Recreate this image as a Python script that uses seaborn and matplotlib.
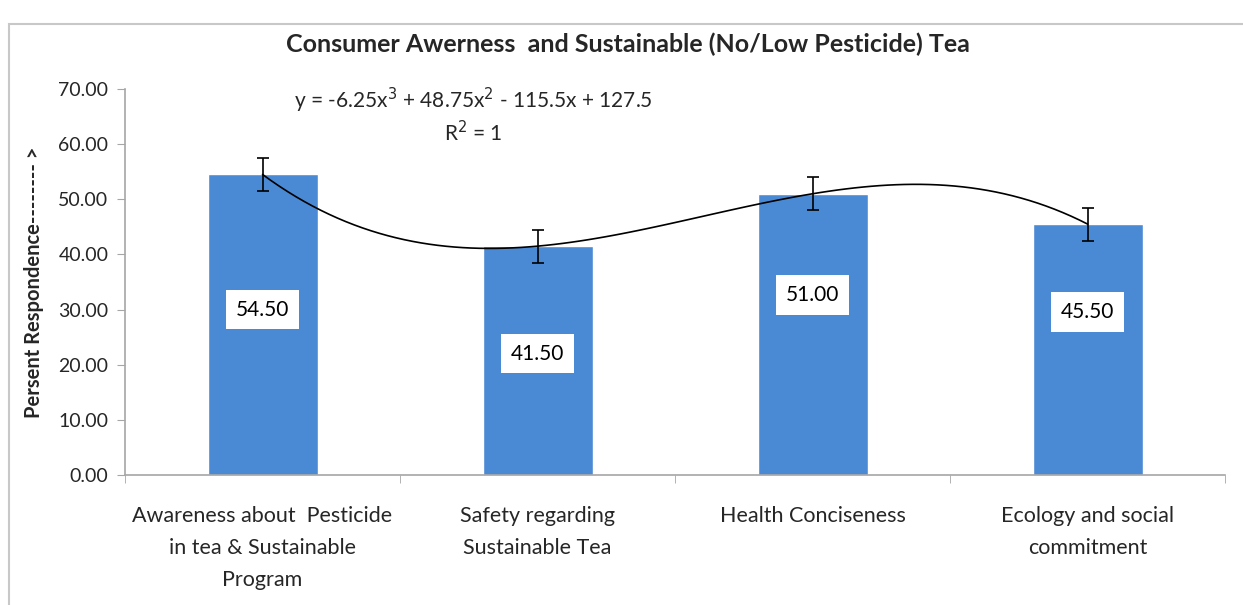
import numpy as np
import pandas as pd
import matplotlib.pyplot as plt
import seaborn as sns
from matplotlib.patches import Rectangle

categories = ['Awareness about  Pesticide\nin tea & Sustainable\nProgram',
              'Safety regarding\nSustainable Tea',
              'Health Conciseness',
              'Ecology and social\ncommitment']
values = [54.50, 41.50, 51.00, 45.50]
errors = [3.0, 3.0, 3.0, 3.0]
yticks = [0, 10, 20, 30, 40, 50, 60, 70]

sns.set_style('white')
plt.rcParams['font.family'] = ['Lato', 'DejaVu Sans']

data = pd.DataFrame({'cat': categories, 'val': values, 'pos': range(len(values))})

fig = plt.figure(figsize=(12.43, 6.05), dpi=100)
ax = fig.add_axes([0.1006, 0.2149, 0.885, 0.6380])

sns.barplot(x='cat', y='val', data=data, color='#4A8AD4', saturation=1,
            width=0.4, ax=ax, errorbar=None)
ax.errorbar(data['pos'], data['val'], yerr=errors, fmt='none', ecolor='black',
            elinewidth=1.2, capsize=4, capthick=1.2, zorder=4)

# 3rd order polynomial trendline
sns.regplot(x='pos', y='val', data=data, order=3, ci=None, scatter=False,
            truncate=True, line_kws={'color': 'black', 'lw': 1.2, 'zorder': 3}, ax=ax)

# data labels in white boxes
label_frac = [0.55, 0.53, 0.64, 0.65]
for i, v in enumerate(values):
    ax.text(i, v * label_frac[i], '{:.2f}'.format(v), ha='center', va='center',
            fontsize=15, color='black', zorder=5,
            bbox=dict(facecolor='white', edgecolor='none', pad=7))

coef = np.polyfit(np.arange(1, len(values) + 1), values, 3)
eq = 'y = {:g}x$^3$ + {:g}x$^2$ - {:g}x + {:g}'.format(coef[0], coef[1], -coef[2], coef[3])
ax.text(0.317, 0.971, eq, transform=ax.transAxes, ha='center', va='center', fontsize=15)
ax.text(0.317, 0.886, 'R$^2$ = 1', transform=ax.transAxes, ha='center', va='center', fontsize=15)

ax.set_xlim(-0.5, 3.5)
ax.set_ylim(0, 70)
ax.set_yticks(yticks)
ax.set_yticklabels(['{:.2f}'.format(t) for t in yticks], fontsize=14)
ax.set_xticks(range(len(categories)))
ax.set_xticklabels(categories, fontsize=15.5, linespacing=1.75)
ax.set_xticks(np.arange(-0.5, 4, 1), minor=True)
ax.tick_params(axis='x', which='major', length=0, pad=22)
ax.tick_params(axis='x', which='minor', length=6, color='#A6A6A6', direction='out', bottom=True)
ax.tick_params(axis='y', length=6, color='#A6A6A6', direction='out', left=True, pad=6)

ax.set_xlabel('')
ax.set_ylabel('Persent Respondence-------- >', fontsize=14.5, fontweight='bold', labelpad=10)

for s in ['top', 'right']:
    ax.spines[s].set_visible(False)
for s in ['left', 'bottom']:
    ax.spines[s].set_color('#A6A6A6')
    ax.spines[s].set_linewidth(1.2)

fig.text(0.505, 0.926, 'Consumer Awerness  and Sustainable (No/Low Pesticide) Tea',
         ha='center', va='center', fontsize=18, fontweight='bold')

fig.patches.append(Rectangle((0.007, -0.01), 1.0, 0.97, transform=fig.transFigure,
                             fill=False, edgecolor='#C8C8C8', lw=1.5))

fig.savefig('out.png', dpi=100)
